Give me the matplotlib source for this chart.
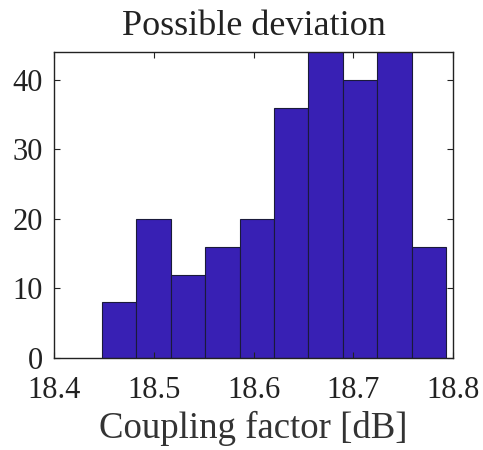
import matplotlib
matplotlib.use("Agg")
import matplotlib.pyplot as plt
import numpy as np

# Data
bin_edges = [18.448, 18.4825, 18.517, 18.5515, 18.586, 18.6205, 18.655, 18.6895, 18.724, 18.7585, 18.793]
counts = [8, 20, 12, 16, 20, 36, 46, 40, 46, 16]
x_ticks = [18.4, 18.5, 18.6, 18.7, 18.8]
x_tick_labels = ["18.4", "18.5", "18.6", "18.7", "18.8"]
y_ticks = [0, 10, 20, 30, 40]
y_tick_labels = ["0", "10", "20", "30", "40"]
title = "Possible deviation"
xlabel = "Coupling factor [dB]"

plt.rcParams['font.family'] = ['Liberation Serif', 'DejaVu Serif']

fig = plt.figure(figsize=(4.83, 4.5), dpi=100)
ax = fig.add_axes([0.1118, 0.2044, 0.8262, 0.68])

ax.hist(bin_edges[:-1], bins=bin_edges, weights=counts,
        color='#3820B4', edgecolor='#1a1a3a', linewidth=0.8)

ax.set_xlim(18.4, 18.8)
ax.set_ylim(0, 44)
ax.set_xticks(x_ticks)
ax.set_xticklabels(x_tick_labels)
ax.set_yticks(y_ticks)
ax.set_yticklabels(y_tick_labels)

ax.tick_params(direction='in', length=4, width=0.8, top=True, right=True,
               labelsize=22, colors='#222222')
ax.tick_params(axis='x', pad=13)
ax.tick_params(axis='y', pad=8)
for s in ax.spines.values():
    s.set_linewidth(1.0)
    s.set_color('#222222')

ax.set_title(title, fontsize=26, color='#222222', pad=12)
ax.set_xlabel(xlabel, fontsize=26.5, color='#333333', labelpad=4)

fig.savefig("out.png", dpi=100)
